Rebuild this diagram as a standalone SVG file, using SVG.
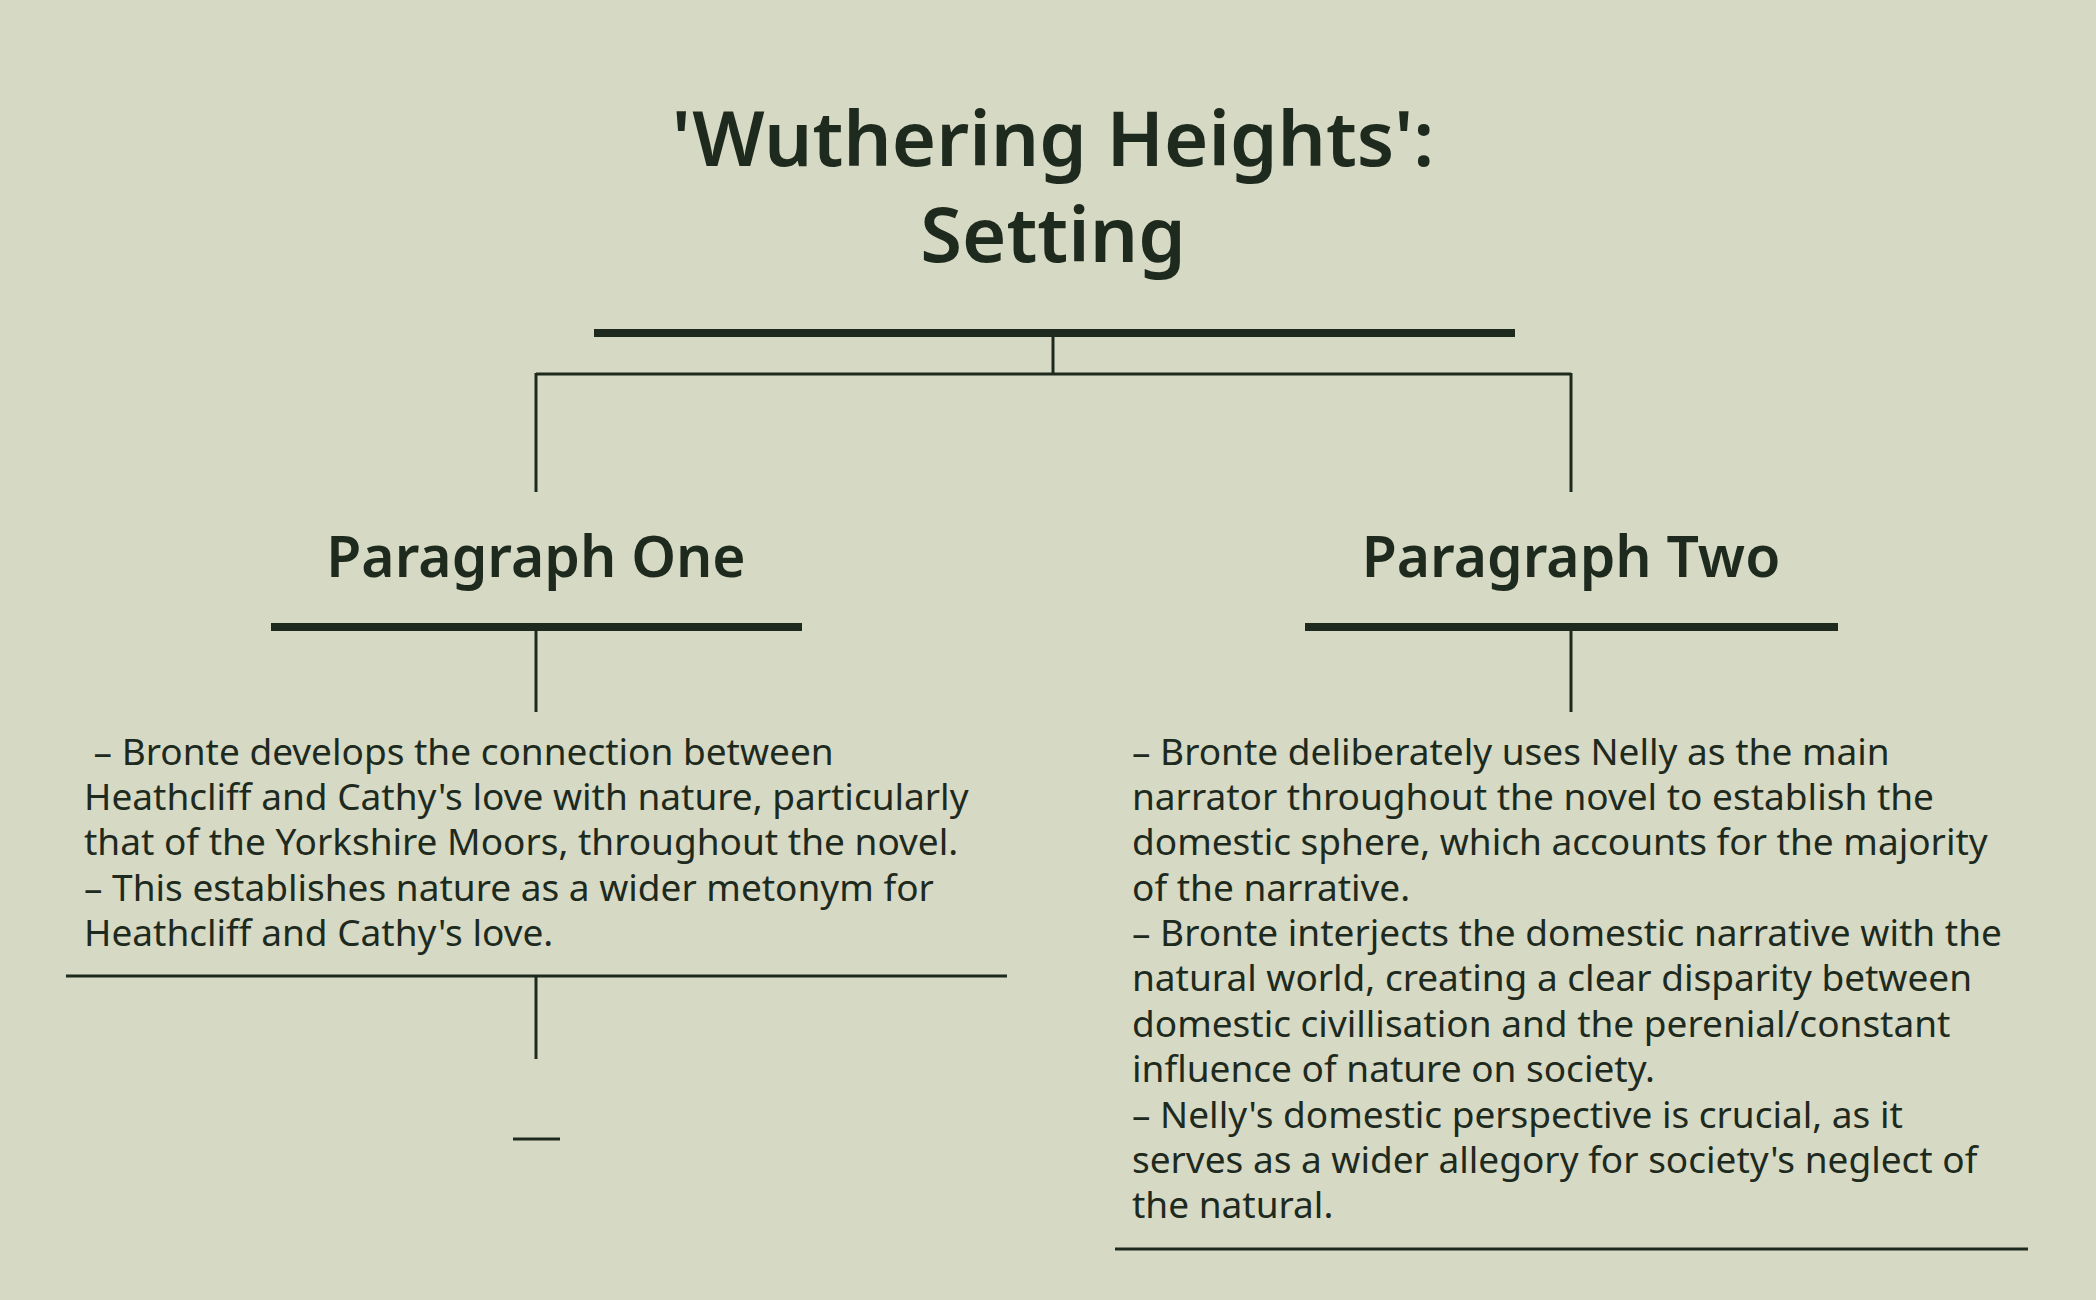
<svg xmlns="http://www.w3.org/2000/svg" width="2096" height="1300" viewBox="0 0 2096 1300">
<style>
.t{font-family:"Noto Sans","Open Sans",sans-serif;fill:#1e2a1e}
.h{font-weight:600;text-anchor:middle}
.b{font-size:37px}
.c line{stroke:#1e2a1e}
</style>
<rect width="2096" height="1300" fill="#d6d9c3"/>
<g id="title"><text class="t h" font-size="76" x="1053" y="166">'Wuthering Heights':</text><text class="t h" font-size="76" x="1053" y="262">Setting</text></g>
<g class="c">
<line x1="594" y1="333" x2="1515" y2="333" stroke-width="8"/>
<line x1="1053" y1="333" x2="1053" y2="374" stroke-width="3"/>
<line x1="536" y1="374" x2="1571" y2="374" stroke-width="3"/>
<line x1="536" y1="373" x2="536" y2="492" stroke-width="3"/>
<line x1="1571" y1="373" x2="1571" y2="492" stroke-width="3"/>
<line x1="271" y1="627" x2="802" y2="627" stroke-width="8"/>
<line x1="1305" y1="627" x2="1838" y2="627" stroke-width="8"/>
<line x1="536" y1="627" x2="536" y2="712" stroke-width="3"/>
<line x1="1571" y1="627" x2="1571" y2="712" stroke-width="3"/>
<line x1="66" y1="976" x2="1007" y2="976" stroke-width="3"/>
<line x1="536" y1="976" x2="536" y2="1059" stroke-width="3"/>
<line x1="513" y1="1139" x2="560" y2="1139" stroke-width="3"/>
<line x1="1115" y1="1249" x2="2028" y2="1249" stroke-width="3"/>
</g>
<g id="p1"><text class="t h" font-size="57" x="536" y="577">Paragraph One</text></g>
<g id="p2"><text class="t h" font-size="57" x="1571" y="577">Paragraph Two</text></g>
<g id="p1text" class="t b">
<text x="84" y="765" xml:space="preserve"> – Bronte develops the connection between</text>
<text x="84" y="810">Heathcliff and Cathy's love with nature, particularly</text>
<text x="84" y="855">that of the Yorkshire Moors, throughout the novel.</text>
<text x="84" y="901">– This establishes nature as a wider metonym for</text>
<text x="84" y="946">Heathcliff and Cathy's love.</text>
</g>
<g id="p2text" class="t b">
<text x="1132" y="765">– Bronte deliberately uses Nelly as the main</text>
<text x="1132" y="810">narrator throughout the novel to establish the</text>
<text x="1132" y="855">domestic sphere, which accounts for the majority</text>
<text x="1132" y="901">of the narrative.</text>
<text x="1132" y="946">– Bronte interjects the domestic narrative with the</text>
<text x="1132" y="991">natural world, creating a clear disparity between</text>
<text x="1132" y="1037">domestic civillisation and the perenial/constant</text>
<text x="1132" y="1082">influence of nature on society.</text>
<text x="1132" y="1128">– Nelly's domestic perspective is crucial, as it</text>
<text x="1132" y="1173">serves as a wider allegory for society's neglect of</text>
<text x="1132" y="1218">the natural.</text>
</g>
</svg>
